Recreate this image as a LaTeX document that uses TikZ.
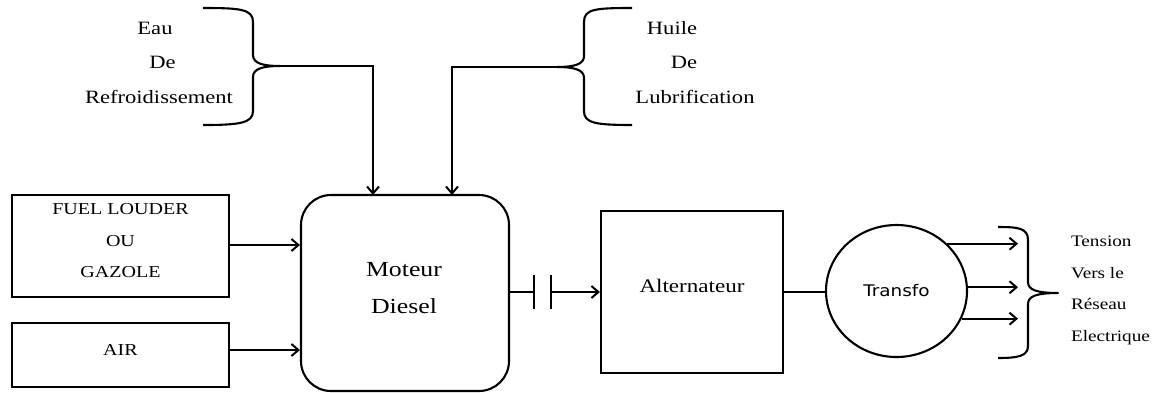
\documentclass[tikz,border=0pt]{standalone}
\usepackage{fontspec}
\setmainfont{Liberation Serif}[FakeStretch=1.2]
\newfontfamily\transfofont{DejaVu Sans}[FakeStretch=1.15]
\newcommand{\myfs}[2]{\fontsize{#1}{#2}\selectfont}
\usetikzlibrary{arrows.meta,shapes.geometric,calc}
\begin{document}
\begin{tikzpicture}[x=1pt,y=-1pt,
  line width=2.1pt,
  box/.style={draw, line width=2.1pt, inner sep=0pt},
  arr/.style={-{Straight Barb[length=7pt,width=12pt,line width=2pt]}},
  br/.style={line width=2.1pt, line join=round},
  lbl/.style={inner sep=0pt, align=center}]
\useasboundingbox (0,0) rectangle (1162,392);

% boxes
\node[box, minimum width=217pt, minimum height=102pt] (fuel) at (120.5,246) {};
\node[lbl, font=\myfs{16.7}{31.5}] (fueltxt) at (120.5,241) {FUEL LOUDER\\OU\\GAZOLE};
\node[box, minimum width=217pt, minimum height=64pt] (air) at (120.5,355) {};
\node[lbl, font=\myfs{16.7}{20}] (airtxt) at (120.5,350) {AIR};
\node[box, rounded corners=30pt, minimum width=208pt, minimum height=196pt] (moteur) at (405,293) {};
\node[lbl, font=\myfs{21.5}{37}] (motxt) at (404,288) {Moteur\\Diesel};
\node[box, minimum width=182pt, minimum height=162pt] (alt) at (692,292) {};
\node[lbl, font=\myfs{19.2}{22}] (alttxt) at (692,286) {Alternateur};
\node[box, ellipse, minimum width=141pt, minimum height=132pt, font=\transfofont\myfs{16}{20}] (transfo) at (896.5,291) {Transfo};

% top labels
\node[lbl, font=\myfs{18.8}{22}] (eau) at (155,28) {Eau};
\node[lbl, font=\myfs{18.8}{22}] (de1) at (162.5,62) {De};
\node[lbl, font=\myfs{18.8}{22}] (refr) at (159,97) {Refroidissement};
\node[lbl, font=\myfs{18.8}{22}] (huile) at (672,28) {Huile};
\node[lbl, font=\myfs{18.8}{22}] (de2) at (684,62) {De};
\node[lbl, font=\myfs{18.8}{22}] (lubr) at (695,97) {Lubrification};

% right label
\node[lbl, align=left, anchor=west, font=\myfs{16}{31.7}] (tension) at (1070,290.5) {Tension\\Vers le\\Réseau\\Electrique};

% braces
\coordinate (b1) at (280,66);
\draw[br] (203,8) .. controls (240,8) and (253,9) .. (253,22) -- (253,55)
  .. controls (253,63) and (262,66) .. (b1)
  .. controls (262,66) and (253,69) .. (253,77) -- (253,111)
  .. controls (253,123) and (240,125) .. (203,125);
\coordinate (b2) at (557,67);
\draw[br] (632,8) .. controls (595,8) and (584,9) .. (584,22) -- (584,56)
  .. controls (584,64) and (575,67) .. (b2)
  .. controls (575,67) and (584,70) .. (584,78) -- (584,111)
  .. controls (584,123) and (595,125) .. (632,125);
\coordinate (b3) at (1058,293);
\draw[br] (998,227) .. controls (1018,227) and (1028,228) .. (1028,240) -- (1028,282)
  .. controls (1028,290) and (1037,293) .. (b3)
  .. controls (1037,293) and (1028,296) .. (1028,304) -- (1028,346)
  .. controls (1028,356) and (1018,358) .. (998,358);

% connectors from braces
\coordinate (m1) at (373,195);
\coordinate (m2) at (452,195);
\draw[arr] (b1) -| (m1);
\draw[arr] (b2) -| (m2);

% inputs
\draw[arr] ([yshift=1pt]fuel.east) -- ([yshift=1pt]fuel.east -| moteur.west);
\draw[arr] ([yshift=5pt]air.east) -- ([yshift=5pt]air.east -| moteur.west);

% coupling
\coordinate (c1) at (534,292);
\coordinate (c2) at (551,292);
\draw (moteur.east |- c1) -- (c1);
\draw ($(c1)+(0,-17)$) -- ($(c1)+(0,17)$);
\draw ($(c2)+(0,-17)$) -- ($(c2)+(0,17)$);
\draw[arr] (c2) -- (c2 -| alt.west);

% alternateur -> transfo
\draw (alt.east) -- (alt.east -| transfo.west);

% outputs
\coordinate (ox) at (1018,0);
\draw[arr] (transfo.43.5) -- (transfo.43.5 -| ox);
\draw[arr] (transfo.3) -- (transfo.3 -| ox);
\draw[arr] (transfo.-23) -- (transfo.-23 -| ox);
\end{tikzpicture}
\end{document}
